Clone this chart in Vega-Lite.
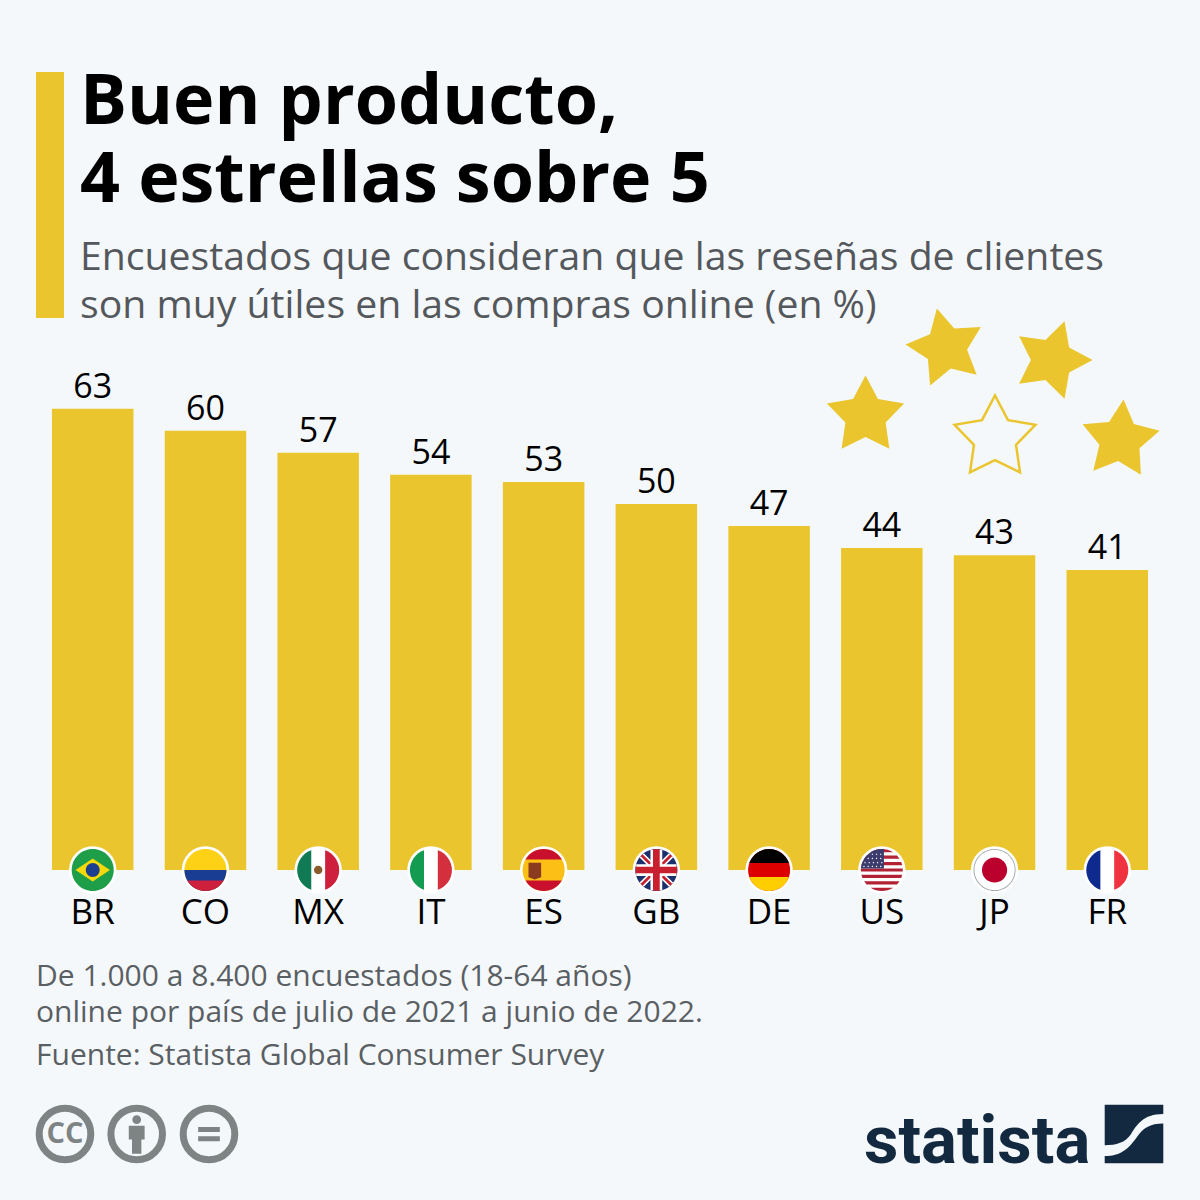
{
"$schema":"https://vega.github.io/schema/vega-lite/v6.json",
"width":1200,"height":1200,"padding":0,"autosize":{"type":"none"},
"background":"#f5f8fb",
"config":{"view":{"stroke":null},"font":"Open Sans"},
"title":{"text":["Buen producto,","4 estrellas sobre 5"],"subtitle":["Encuestados que consideran que las reseñas de clientes","son muy útiles en las compras online (en %)"],
"anchor":"start","frame":"group","dx":80,"offset":-327,"font":"Open Sans","fontSize":70,"fontWeight":"bold","color":"#000000","lineHeight":78,
"subtitleFont":"Open Sans","subtitleFontSize":39.2,"subtitleColor":"#54585c","subtitleLineHeight":48,"subtitlePadding":22},
"datasets":{"survey":[
{"country":"BR","share":63},{"country":"CO","share":60},{"country":"MX","share":57},{"country":"IT","share":54},{"country":"ES","share":53},{"country":"GB","share":50},{"country":"DE","share":47},{"country":"US","share":44},{"country":"JP","share":43},{"country":"FR","share":41}]},
"resolve":{"scale":{"x":"independent","y":"independent","color":"independent","shape":"independent","size":"independent","angle":"independent","strokeWidth":"independent"},"axis":{"x":"independent","y":"independent"}},
"layer":[
{"data":{"name":"survey"},"mark":{"type":"bar","color":"#eac52e"},
"encoding":{
"x":{"field":"country","type":"nominal","sort":null,"scale":{"type":"band","paddingInner":0.277,"paddingOuter":0.461},
"axis":{"title":null,"orient":"bottom","offset":-288,"domain":false,"ticks":false,"labelAngle":0,"labelBaseline":"middle","labelPadding":0,"labelFont":"Open Sans","labelFontSize":35,"labelColor":"#000000"}},
"y":{"field":"share","type":"quantitative","scale":{"domain":[-45.08,118.85],"nice":false,"zero":false},"axis":null}}},
{"data":{"name":"survey"},"mark":{"type":"text","font":"Open Sans","fontSize":34,"color":"#000000","baseline":"alphabetic","dy":-11},
"encoding":{
"x":{"field":"country","type":"nominal","sort":null,"scale":{"type":"band","paddingInner":0.277,"paddingOuter":0.461},"axis":null},
"y":{"field":"share","type":"quantitative","scale":{"domain":[-45.08,118.85],"nice":false,"zero":false},"axis":null},
"text":{"field":"share","type":"quantitative"}}},
{"data":{"name":"survey"},"mark":{"type":"point","filled":true,"color":"#ffffff","opacity":1,"size":2250},
"encoding":{
"x":{"field":"country","type":"nominal","sort":null,"scale":{"type":"band","paddingInner":0.277,"paddingOuter":0.461},"axis":null},
"y":{"datum":0,"type":"quantitative","scale":{"domain":[-45.08,118.85],"nice":false,"zero":false},"axis":null}}},
{"data":{"name":"flags","values":[
{"country":"BR","part":"br_base"},{"country":"BR","part":"br_diamond"},{"country":"BR","part":"br_globe"},
{"country":"CO","part":"co_base"},{"country":"CO","part":"co_blue"},{"country":"CO","part":"co_red"},
{"country":"MX","part":"mx_base"},{"country":"MX","part":"mx_green"},{"country":"MX","part":"mx_red"},{"country":"MX","part":"mx_eagle"},
{"country":"IT","part":"it_base"},{"country":"IT","part":"it_green"},{"country":"IT","part":"it_red"},
{"country":"ES","part":"es_base"},{"country":"ES","part":"es_top"},{"country":"ES","part":"es_bot"},{"country":"ES","part":"es_arms"},
{"country":"GB","part":"gb_base"},{"country":"GB","part":"gb_wx"},{"country":"GB","part":"gb_rx"},{"country":"GB","part":"gb_wc"},{"country":"GB","part":"gb_rc"},
{"country":"DE","part":"de_base"},{"country":"DE","part":"de_top"},{"country":"DE","part":"de_bot"},
{"country":"US","part":"us_base"},{"country":"US","part":"us_stripes"},{"country":"US","part":"us_canton"},{"country":"US","part":"us_stars"},
{"country":"JP","part":"jp_edge"},{"country":"JP","part":"jp_base"},{"country":"JP","part":"jp_disc"},
{"country":"FR","part":"fr_base"},{"country":"FR","part":"fr_blue"},{"country":"FR","part":"fr_red"}]},
"mark":{"type":"point","filled":true,"opacity":1,"size":1764},
"encoding":{
"x":{"field":"country","type":"nominal","sort":["BR","CO","MX","IT","ES","GB","DE","US","JP","FR"],"scale":{"type":"band","paddingInner":0.277,"paddingOuter":0.461},"axis":null},
"y":{"datum":0,"type":"quantitative","scale":{"domain":[-45.08,118.85],"nice":false,"zero":false},"axis":null},
"color":{"field":"part","type":"nominal","legend":null,"scale":{
"domain":["br_base","br_diamond","br_globe","co_base","co_blue","co_red","mx_base","mx_green","mx_red","mx_eagle","it_base","it_green","it_red","es_base","es_top","es_bot","es_arms","gb_base","gb_wx","gb_rx","gb_wc","gb_rc","de_base","de_top","de_bot","us_base","us_stripes","us_canton","us_stars","jp_edge","jp_base","jp_disc","fr_base","fr_blue","fr_red"],
"range":["#1f9e4a","#f5d90a","#1d3f8f","#fcd116","#1a3d94","#ce1f3c","#ffffff","#0f7a54","#ce1f3c","#8a5a2b","#ffffff","#149b52","#d32f3c","#fbbf16","#c8102e","#c8102e","#8a3a1f","#1c2f6e","#ffffff","#c8202f","#ffffff","#c8202f","#dd0000","#000000","#ffce00","#ffffff","#b22234","#3c3b6e","#ffffff","#9aa0a6","#ffffff","#bc002d","#ffffff","#0f2a8f","#ef3340"]}},
"shape":{"field":"part","type":"nominal","legend":null,"scale":{
"domain":["br_base","br_diamond","br_globe","co_base","co_blue","co_red","mx_base","mx_green","mx_red","mx_eagle","it_base","it_green","it_red","es_base","es_top","es_bot","es_arms","gb_base","gb_wx","gb_rx","gb_wc","gb_rc","de_base","de_top","de_bot","us_base","us_stripes","us_canton","us_stars","jp_edge","jp_base","jp_disc","fr_base","fr_blue","fr_red"],
"range":[
"M-1,0A1,1 0 1,1 1,0A1,1 0 1,1 -1,0Z","M-.82,0L0,-.55L.82,0L0,.55Z","M-.33,0A.33,.33 0 1,1 .33,0A.33,.33 0 1,1 -.33,0Z",
"M-1,0A1,1 0 1,1 1,0A1,1 0 1,1 -1,0Z","M-1,0A1,1 0 0,0 1,0Z","M-.866,.5A1,1 0 0,0 .866,.5Z",
"M-1,0A1,1 0 1,1 1,0A1,1 0 1,1 -1,0Z","M-.33,-.944A1,1 0 0,0 -.33,.944Z","M.33,-.944A1,1 0 0,1 .33,.944Z","M-.2,0A.2,.2 0 1,1 .2,0A.2,.2 0 1,1 -.2,0Z",
"M-1,0A1,1 0 1,1 1,0A1,1 0 1,1 -1,0Z","M-.33,-.944A1,1 0 0,0 -.33,.944Z","M.33,-.944A1,1 0 0,1 .33,.944Z",
"M-1,0A1,1 0 1,1 1,0A1,1 0 1,1 -1,0Z","M-.866,-.5A1,1 0 0,1 .866,-.5Z","M-.866,.5A1,1 0 0,0 .866,.5Z","M-.72,-.35L-.12,-.35L-.12,.35L-.42,.45L-.72,.35Z",
"M-1,0A1,1 0 1,1 1,0A1,1 0 1,1 -1,0Z","M-.8,-.6L-.6,-.8L0,-.2L.6,-.8L.8,-.6L.2,0L.8,.6L.6,.8L0,.2L-.6,.8L-.8,.6L-.2,0Z","M-.75,-.66L-.66,-.75L0,-.09L.66,-.75L.75,-.66L.09,0L.75,.66L.66,.75L0,.09L-.66,.75L-.75,.66L-.09,0Z","M-.28,-.96L.28,-.96L.28,-.28L.96,-.28L.96,.28L.28,.28L.28,.96L-.28,.96L-.28,.28L-.96,.28L-.96,-.28L-.28,-.28Z","M-.16,-.987L.16,-.987L.16,-.16L.987,-.16L.987,.16L.16,.16L.16,.987L-.16,.987L-.16,.16L-.987,.16L-.987,-.16L-.16,-.16Z",
"M-1,0A1,1 0 1,1 1,0A1,1 0 1,1 -1,0Z","M-.944,-.33A1,1 0 0,1 .944,-.33Z","M-.944,.33A1,1 0 0,0 .944,.33Z",
"M-1,0A1,1 0 1,1 1,0A1,1 0 1,1 -1,0Z","M-.533,-.846A1,1 0 0,1 .533,-.846ZM-.722,-.692L.722,-.692L.843,-.538L-.843,-.538ZM-.923,-.385L.923,-.385L.973,-.231L-.973,-.231ZM-.997,-.077L.997,-.077L.997,.077L-.997,.077ZM-.973,.231L.973,.231L.923,.385L-.923,.385ZM-.843,.538L.843,.538L.722,.692L-.722,.692ZM-.533,.846A1,1 0 0,0 .533,.846Z","M.1,-.995A1,1 0 0,0 -.997,-.077L.1,-.077Z",
"M-.45,-.79l.04,.04l-.04,.04l-.04,-.04zM-.25,-.79l.04,.04l-.04,.04l-.04,-.04zM-.05,-.79l.04,.04l-.04,.04l-.04,-.04zM-.65,-.59l.04,.04l-.04,.04l-.04,-.04zM-.45,-.59l.04,.04l-.04,.04l-.04,-.04zM-.25,-.59l.04,.04l-.04,.04l-.04,-.04zM-.05,-.59l.04,.04l-.04,.04l-.04,-.04zM-.8,-.39l.04,.04l-.04,.04l-.04,-.04zM-.6,-.39l.04,.04l-.04,.04l-.04,-.04zM-.4,-.39l.04,.04l-.04,.04l-.04,-.04zM-.2,-.39l.04,.04l-.04,.04l-.04,-.04zM0,-.39l.04,.04l-.04,.04l-.04,-.04zM-.85,-.21l.04,.04l-.04,.04l-.04,-.04zM-.65,-.21l.04,.04l-.04,.04l-.04,-.04zM-.45,-.21l.04,.04l-.04,.04l-.04,-.04zM-.25,-.21l.04,.04l-.04,.04l-.04,-.04zM-.05,-.21l.04,.04l-.04,.04l-.04,-.04z",
"M-1,0A1,1 0 1,1 1,0A1,1 0 1,1 -1,0Z","M-.96,0A.96,.96 0 1,1 .96,0A.96,.96 0 1,1 -.96,0Z","M-.6,0A.6,.6 0 1,1 .6,0A.6,.6 0 1,1 -.6,0Z",
"M-1,0A1,1 0 1,1 1,0A1,1 0 1,1 -1,0Z","M-.33,-.944A1,1 0 0,0 -.33,.944Z","M.33,-.944A1,1 0 0,1 .33,.944Z"]}}}},
{"data":{"name":"decor","values":[
{"item":"accent","gx":50,"gy":195},
{"item":"star1","gx":865.5,"gy":416},{"item":"star2","gx":946,"gy":348},{"item":"star3","gx":1052,"gy":360},{"item":"star5","gx":1120,"gy":440},
{"item":"person","gx":136.7,"gy":1134},{"item":"equals","gx":209,"gy":1134},{"item":"logo","gx":1134,"gy":1134}]},
"mark":{"type":"point","filled":true,"opacity":1},
"encoding":{
"x":{"field":"gx","type":"quantitative","scale":{"domain":[0,1200],"nice":false,"zero":false},"axis":null},
"y":{"field":"gy","type":"quantitative","scale":{"domain":[0,1200],"nice":false,"zero":false,"reverse":true},"axis":null},
"color":{"field":"item","type":"nominal","legend":null,"scale":{"domain":["accent","star1","star2","star3","star5","person","equals","logo"],"range":["#eac52e","#eac52e","#eac52e","#eac52e","#eac52e","#7e8384","#7e8384","#12293f"]}},
"shape":{"field":"item","type":"nominal","legend":null,"scale":{"domain":["accent","star1","star2","star3","star5","person","equals","logo"],"range":[
"M-.114,-1L.114,-1L.114,1L-.114,1Z",
"M0,-1L.306,-.421L.951,-.309L.495,.161L.588,.809L0,.52L-.588,.809L-.495,.161L-.951,-.309L-.306,-.421Z",
"M0,-1L.306,-.421L.951,-.309L.495,.161L.588,.809L0,.52L-.588,.809L-.495,.161L-.951,-.309L-.306,-.421Z",
"M0,-1L.306,-.421L.951,-.309L.495,.161L.588,.809L0,.52L-.588,.809L-.495,.161L-.951,-.309L-.306,-.421Z",
"M0,-1L.306,-.421L.951,-.309L.495,.161L.588,.809L0,.52L-.588,.809L-.495,.161L-.951,-.309L-.306,-.421Z",
"M-.27,-.28L.27,-.28L.27,.19L.16,.19L.16,.67L-.16,.67L-.16,.19L-.27,.19ZM-.15,-.49A.15,.15 0 1,1 .15,-.49A.15,.15 0 1,1 -.15,-.49Z",
"M-.37,-.24L.37,-.24L.37,-.07L-.37,-.07ZM-.37,.08L.37,.08L.37,.25L-.37,.25Z",
"M-1,-1L1,-1L1,-.68C.3,-.68 .1,-.3 -.1,0C-.3,.3 -.6,.38 -1,.38ZM1,-.36L1,1L-1,1L-1,.75C-.4,.75 -.15,.45 .1,.1C.3,-.2 .55,-.36 1,-.36Z"]}},
"size":{"field":"item","type":"nominal","legend":null,"scale":{"type":"ordinal","domain":["accent","star1","star2","star3","star5","person","equals","logo"],"range":[60516,6600,6600,6600,6600,3434,3434,3434]}},
"angle":{"field":"item","type":"nominal","legend":null,"scale":{"type":"ordinal","domain":["accent","star1","star2","star3","star5","person","equals","logo"],"range":[0,0,-13,18,5,0,0,0]}}}},
{"data":{"name":"outlines","values":[
{"item":"star4","gx":995,"gy":438},{"item":"cc","gx":65,"gy":1134},{"item":"by","gx":136.7,"gy":1134},{"item":"nd","gx":209,"gy":1134}]},
"mark":{"type":"point","filled":false,"opacity":1},
"encoding":{
"x":{"field":"gx","type":"quantitative","scale":{"domain":[0,1200],"nice":false,"zero":false},"axis":null},
"y":{"field":"gy","type":"quantitative","scale":{"domain":[0,1200],"nice":false,"zero":false,"reverse":true},"axis":null},
"color":{"field":"item","type":"nominal","legend":null,"scale":{"domain":["star4","cc","by","nd"],"range":["#eac52e","#7e8384","#7e8384","#7e8384"]}},
"shape":{"field":"item","type":"nominal","legend":null,"scale":{"domain":["star4","cc","by","nd"],"range":[
"M0,-1L.306,-.421L.951,-.309L.495,.161L.588,.809L0,.52L-.588,.809L-.495,.161L-.951,-.309L-.306,-.421Z",
"M-1,0A1,1 0 1,1 1,0A1,1 0 1,1 -1,0Z","M-1,0A1,1 0 1,1 1,0A1,1 0 1,1 -1,0Z","M-1,0A1,1 0 1,1 1,0A1,1 0 1,1 -1,0Z"]}},
"size":{"field":"item","type":"nominal","legend":null,"scale":{"type":"ordinal","domain":["star4","cc","by","nd"],"range":[7225,2663,2663,2663]}},
"strokeWidth":{"field":"item","type":"nominal","legend":null,"scale":{"type":"ordinal","domain":["star4","cc","by","nd"],"range":[2.5,7,7,7]}}}},
{"data":{"name":"notes","values":[
{"line":"De 1.000 a 8.400 encuestados (18-64 años)","gx":36,"gy":986},
{"line":"online por país de julio de 2021 a junio de 2022.","gx":36,"gy":1022},
{"line":"Fuente: Statista Global Consumer Survey","gx":36,"gy":1065}]},
"mark":{"type":"text","align":"left","baseline":"alphabetic","font":"Open Sans","fontSize":30,"color":"#5a5f63"},
"encoding":{
"x":{"field":"gx","type":"quantitative","scale":{"domain":[0,1200],"nice":false,"zero":false},"axis":null},
"y":{"field":"gy","type":"quantitative","scale":{"domain":[0,1200],"nice":false,"zero":false,"reverse":true},"axis":null},
"text":{"field":"line","type":"nominal"}}},
{"data":{"name":"brand","values":[{"word":"statista","gx":864,"gy":1163}]},
"mark":{"type":"text","align":"left","baseline":"alphabetic","font":"Roboto","fontWeight":"bold","fontSize":67,"color":"#12293f"},
"encoding":{
"x":{"field":"gx","type":"quantitative","scale":{"domain":[0,1200],"nice":false,"zero":false},"axis":null},
"y":{"field":"gy","type":"quantitative","scale":{"domain":[0,1200],"nice":false,"zero":false,"reverse":true},"axis":null},
"text":{"field":"word","type":"nominal"}}},
{"data":{"name":"licence","values":[{"word":"CC","gx":65,"gy":1134}]},
"mark":{"type":"text","align":"center","baseline":"middle","font":"Open Sans","fontWeight":"bold","fontSize":29,"color":"#7e8384"},
"encoding":{
"x":{"field":"gx","type":"quantitative","scale":{"domain":[0,1200],"nice":false,"zero":false},"axis":null},
"y":{"field":"gy","type":"quantitative","scale":{"domain":[0,1200],"nice":false,"zero":false,"reverse":true},"axis":null},
"text":{"field":"word","type":"nominal"}}}
]}
